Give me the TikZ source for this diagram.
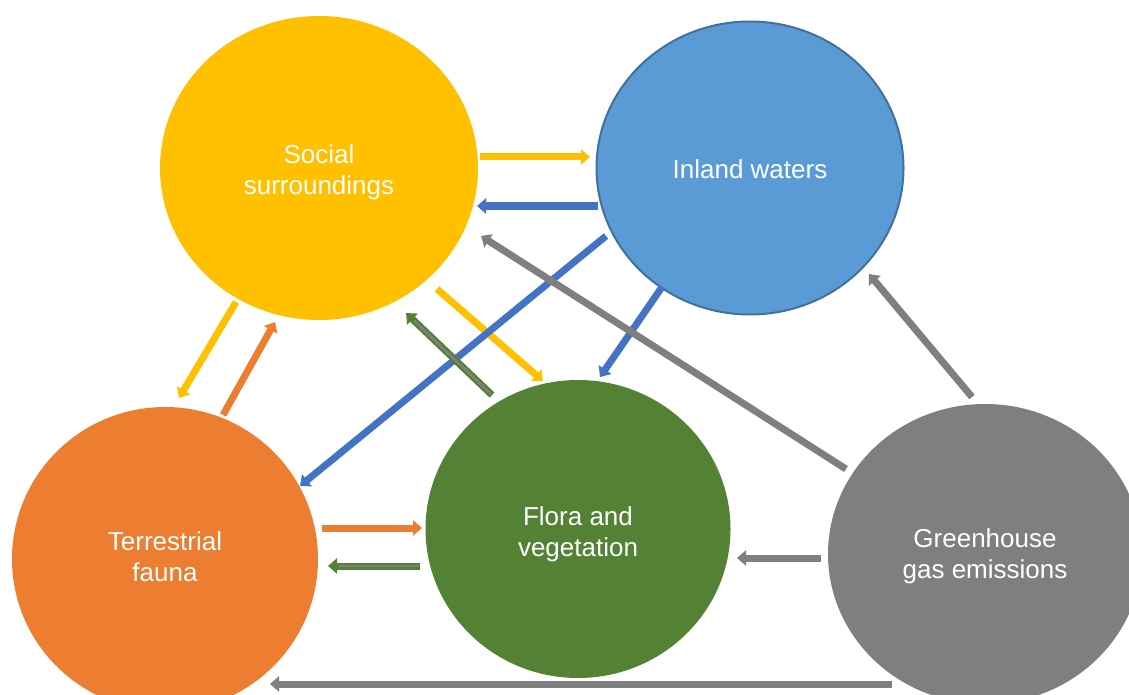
\documentclass[tikz,border=0pt]{standalone}
\usepackage{fontspec}
\setmainfont{Liberation Sans}
\usetikzlibrary{shapes.geometric,arrows.meta,calc}

\definecolor{cyellow}{HTML}{FFC000}
\definecolor{cblue}{HTML}{5B9BD5}
\definecolor{cblueline}{HTML}{41719C}
\definecolor{cdarkblue}{HTML}{4472C4}
\definecolor{corange}{HTML}{ED7D31}
\definecolor{cgreen}{HTML}{548235}
\definecolor{cgray}{HTML}{7F7F7F}

\tikzset{
  topic/.style={ellipse, inner sep=0pt},
  topictext/.style={text=white, align=center, inner sep=0pt,
    font=\fontsize{26}{31}\selectfont},
  link/.style={line width=7pt,
    -{Triangle[width=15pt,length=9pt]}},
  yarr/.style={link, draw=cyellow, fill=cyellow},
  barr/.style={link, draw=cdarkblue, fill=cdarkblue},
  oarr/.style={link, draw=corange, fill=corange},
  garr/.style={link, draw=cgray, fill=cgray},
  varr/.style={link, draw=cgreen, fill=cgreen},
  vcore/.style={line width=2.5pt, draw=cgray, shorten >=11pt, shorten <=1.5pt},
}

\begin{document}
\begin{tikzpicture}[x=1pt, y=-1pt]
\useasboundingbox (0,0) rectangle (1129,695);
\clip (0,0) rectangle (1129,695);
\fill[white] (0,0) rectangle (1129,695);

% the five topics
\node[topic, fill=cyellow, minimum width=318pt, minimum height=304pt,
  label={[topictext, yshift=-4pt]center:Social\\surroundings}] (soc) at (319,168) {};
\node[topic, fill=cblue, draw=cblueline, line width=2pt, minimum width=307pt, minimum height=293pt,
  label={[topictext, yshift=-1pt]center:Inland waters}] (inl) at (750,168) {};
\node[topic, fill=corange, minimum width=306pt, minimum height=304pt,
  label={[topictext, yshift=2pt]center:Terrestrial\\fauna}] (fau) at (165,559) {};
\node[topic, fill=cgreen, minimum width=305pt, minimum height=298pt,
  label={[topictext, yshift=-5pt]center:Flora and\\vegetation}] (flo) at (578,529) {};
\node[topic, fill=cgray, minimum width=314pt, minimum height=300pt,
  label={[topictext, yshift=-2pt]center:Greenhouse\\gas emissions}] (ghg) at (985,554) {};

% influences between the topics
\draw[yarr] ($(soc)+(161,-11)$) -- ($(inl)+(-160,-11)$);
\draw[barr] ($(inl)+(-152,38)$) -- ($(soc)+(158,38)$);
\draw[yarr] ($(soc)+(-83,134)$) -- ($(fau)+(14,-161)$);
\draw[oarr] ($(fau)+(58,-144)$) -- ($(soc)+(-44,154)$);
\draw[yarr] ($(soc)+(118,121)$) -- ($(flo)+(-35,-148)$);
\draw[barr] ($(inl)+(-144,68)$) -- ($(fau)+(135,-73)$);
\draw[varr] ($(flo)+(-86,-134)$) -- ($(soc)+(87,145)$);
\draw[vcore] ($(flo)+(-86,-134)$) -- ($(soc)+(87,145)$);
\draw[barr] ($(inl)+(-88,119)$) -- ($(flo)+(22,-152)$);
\draw[garr] ($(ghg)+(-139,-85)$) -- ($(soc)+(162,68)$);
\draw[garr] ($(ghg)+(-13,-157)$) -- ($(inl)+(119,106)$);
\draw[oarr] ($(fau)+(157,-31)$) -- ($(flo)+(-156,-1)$);
\draw[varr] ($(flo)+(-158,37)$) -- ($(fau)+(163,7)$);
\draw[vcore] ($(flo)+(-158,37)$) -- ($(fau)+(163,7)$);
\draw[garr] ($(ghg)+(-164,4)$) -- ($(flo)+(159,29)$);
\draw[garr] ($(ghg)+(-93,130)$) -- ($(fau)+(105,125)$);
\end{tikzpicture}
\end{document}
